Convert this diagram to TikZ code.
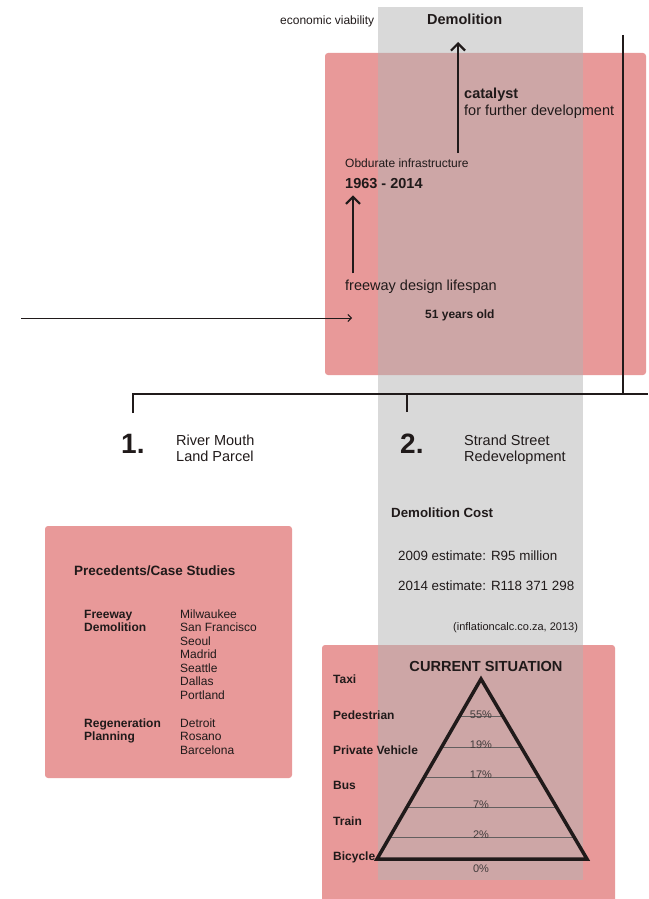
\documentclass[tikz,border=0pt]{standalone}
\usepackage{fontspec}
\setmainfont{Liberation Sans}
\usetikzlibrary{calc,arrows.meta}
\definecolor{boxred}{RGB}{232,153,153}
\definecolor{bandgrey}{RGB}{180,180,180}
\definecolor{ink}{RGB}{32,26,26}

\begin{document}
\begin{tikzpicture}[x=1pt,y=-1pt,
    txt/.style={anchor=base west,inner sep=0pt,text=ink,font=\fontsize{14.5}{16}\selectfont},
    smalltxt/.style={txt,font=\fontsize{12}{13.5}\selectfont},
    boldtxt/.style={txt,font=\bfseries\fontsize{14.5}{16}\selectfont},
    smallbold/.style={txt,font=\bfseries\fontsize{12}{13.5}\selectfont},
    bignum/.style={txt,font=\bfseries\fontsize{28}{30}\selectfont},
    pct/.style={anchor=base,inner sep=0pt,text=ink!85,font=\fontsize{11}{12}\selectfont},
    panel/.style={fill=boxred,rounded corners=3pt},
    bigarrow/.style={draw=ink,line width=2.2pt,-{Straight Barb[length=7pt,width=14pt]}},
    thinarrow/.style={draw=ink,line width=1pt,-{Straight Barb[length=3.5pt,width=7pt]}},
  ]
  \useasboundingbox (0,0) rectangle (648,899);

  % panels, the grey strip goes over them
  \fill[panel] (325,53) rectangle (646,375);
  \fill[panel] (45,526) rectangle (292,778);
  \fill[panel] (322,645) rectangle (615,910);
  \fill[bandgrey,fill opacity=0.5] (378,7) rectangle (583,880);

  % top part
  \node[smalltxt] (econ) at (280,25) {economic viability};
  \node[boldtxt] (demol) at (427,25) {Demolition};
  \node[boldtxt] (cat) at (464,98) {catalyst};
  \node[txt] (further) at (464,115) {for further development};
  \node[smalltxt] (obd) at (345,167) {Obdurate infrastructure};
  \node[boldtxt] (dates) at (345,188) {1963 - 2014};
  \node[txt] (life) at (345,290) {freeway design lifespan};
  \node[smallbold] (age) at (425,318) {51 years old};

  \coordinate (catfoot) at (458,153);
  \coordinate (cattip) at (458,42);
  \draw[bigarrow] (catfoot) -- (cattip);
  \draw[bigarrow] ([xshift=8pt,yshift=6pt]life.north west) -- ([xshift=8pt,yshift=-7pt]dates.south west);

  \coordinate (feed) at (21,318);
  \coordinate (feedtip) at (352,318);
  \draw[thinarrow] (feed) -- (feedtip);

  % bracket to the two sites
  \coordinate (brL) at (133,413);
  \coordinate (brM) at (407,412);
  \coordinate (brR) at (648,394);
  \coordinate (topR) at (623,35);
  \draw[ink,line width=1.2pt] (brL) -- (brL |- brR) -- (brR);
  \draw[ink,line width=2pt] (brM) -- (brM |- brR);
  \draw[ink,line width=2pt] (topR) -- (topR |- brR);

  \node[bignum] (one) at (121,453) {1.};
  \node[txt] (river) at (176,445) {River Mouth};
  \node[txt] (parcel) at (176,461) {Land Parcel};
  \node[bignum] (two) at (400,453) {2.};
  \node[txt] (strand) at (464,445) {Strand Street};
  \node[txt] (redev) at (464,461) {Redevelopment};

  % cost
  \node[txt,font=\bfseries\fontsize{13.3}{15}\selectfont] (cost) at (391,517) {Demolition Cost};
  \node[txt,font=\fontsize{13.4}{15}\selectfont] (est09) at (398,560) {2009 estimate: R95 million};
  \node[txt,font=\fontsize{13.4}{15}\selectfont] (est14) at (398,590) {2014 estimate: R118 371 298};
  \node[txt,font=\fontsize{11}{13}\selectfont] (src) at (453,630) {(inflationcalc.co.za, 2013)};

  % precedents
  \node[txt,font=\bfseries\fontsize{13.5}{15}\selectfont] (prec) at (74,575) {Precedents/Case Studies};
  \node[smallbold] (fwy) at (84,618) {Freeway};
  \node[smallbold] at (84,631.5) {Demolition};
  \foreach \city [count=\i from 0] in {Milwaukee,San Francisco,Seoul,Madrid,Seattle,Dallas,Portland}
    \node[smalltxt] (fw\i) at (180,618+13.5*\i) {\city};
  \node[smallbold] (regen) at (84,727) {Regeneration};
  \node[smallbold] at (84,740.5) {Planning};
  \foreach \city [count=\i from 0] in {Detroit,Rosano,Barcelona}
    \node[smalltxt] (rg\i) at (180,727+13.5*\i) {\city};

  % modal split triangle
  \coordinate (apex) at (481,679);
  \coordinate (bl) at (377,859);
  \coordinate (br) at (587,859);
  \node[anchor=base,inner sep=0pt,text=ink,font=\bfseries\fontsize{14.6}{16}\selectfont] (sit) at (486,671) {CURRENT SITUATION};
  \foreach \t in {0.206,0.378,0.544,0.711,0.878}
    \draw[ink!70,line width=0.6pt] ($(apex)!\t!(bl)$) -- ($(apex)!\t!(br)$);
  \draw[ink,line width=3.5pt] (apex) -- (bl) -- (br) -- cycle;

  \foreach \m/\yy [count=\i] in {Taxi/683,Pedestrian/719,Private Vehicle/754,Bus/789,Train/825,Bicycle/860}
    \node[smallbold] (mode\i) at (333,\yy) {\m};
  \foreach \p/\yy [count=\i] in {55/718,19/748,17/778,7/808,2/838,0/872}
    \node[pct] (pct\i) at (481,\yy) {\p\%};
\end{tikzpicture}
\end{document}
